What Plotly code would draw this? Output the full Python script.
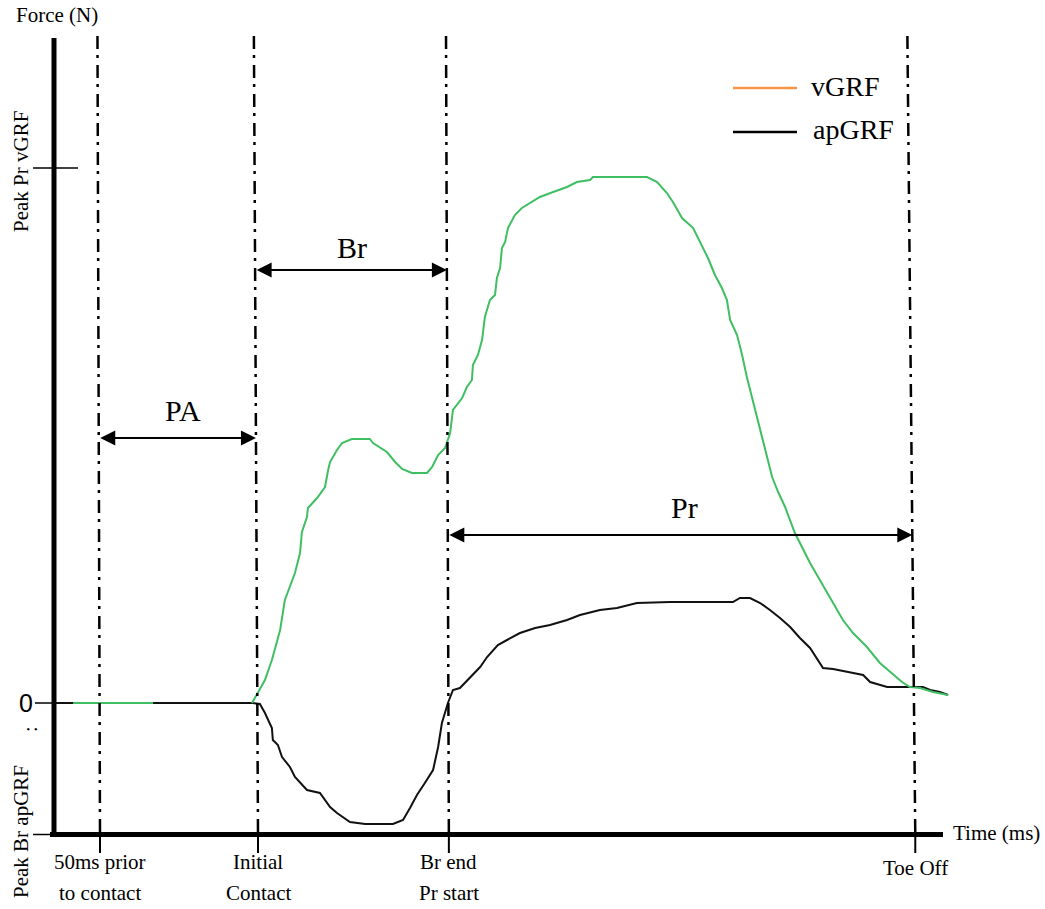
import plotly.graph_objects as go

# ---------------- data ----------------
# time in ms relative to initial contact, force in N
event_labels = [["50ms prior", "to contact"], ["Initial", "Contact"], ["Br end", "Pr start"], ["Toe Off"]]
event_t = [-50.0, 0.0, 60.4, 208.0]

phase_names = ["PA", "Br", "Pr"]

# vGRF: short pre-contact baseline, then stance
vgrf_t = [-58.5, -33.2, None,
          -1.9, 0.0, 2.2, 4.4, 7.0, 8.5, 10.1, 11.7, 13.3, 13.9, 15.5, 15.8, 18.7, 21.2, 22.2, 22.8,
          25.0, 26.6, 29.7, 35.4, 36.4, 40.8, 43.4, 45.6, 48.7, 53.5, 55.1, 57.0, 59.2, 60.8, 61.7,
          64.6, 66.1, 67.7, 68.0, 69.6, 70.9, 71.8, 73.4, 75.0, 75.6, 76.6, 77.2, 78.2, 79.1, 81.3,
          83.5, 86.1, 89.2, 93.4, 97.8, 100.9, 105.1, 106.0, 123.1, 126.3, 129.4, 131.3, 134.2,
          137.7, 140.5, 142.4, 144.6, 146.8, 148.4, 149.4, 151.6, 153.2, 154.7, 156.3, 157.9,
          159.5, 161.1, 162.7, 164.6, 166.8, 169.9, 171.5, 174.7, 177.8, 182.0, 185.1, 188.3,
          192.7, 196.8, 200.6, 203.8, 206.3, 209.5, 213.6, 218.4]
vgrf_f = [0, 0, None,
          0, 22, 46, 86, 146, 206, 232, 260, 300, 342, 372, 390, 410, 432, 466, 482,
          506, 520, 528, 528, 520, 502, 482, 468, 460, 460, 472, 496, 510, 540, 586,
          610, 632, 646, 676, 696, 726, 772, 806, 816, 850, 870, 910, 922, 950, 976,
          990, 1000, 1012, 1022, 1032, 1042, 1046, 1052, 1052, 1042, 1020, 1002, 970,
          950, 916, 890, 856, 830, 806, 766, 736, 696, 652, 612, 572,
          532, 490, 452, 422, 392, 340, 320, 280, 246, 200, 166, 140,
          112, 80, 60, 42, 32, 30, 22, 16]

apgrf_t = [-64.2, -1.6, 0.6, 2.2, 4.4, 4.7, 6.3, 7.6, 10.1, 11.7, 15.5, 19.6, 22.8, 25.0, 29.1,
           33.9, 42.7, 45.9, 48.1, 50.3, 52.8, 55.4, 57.0, 58.2, 60.1, 61.7, 63.9, 67.1, 70.3,
           72.5, 75.9, 78.8, 82.9, 87.7, 92.4, 97.8, 101.9, 108.2, 113.6, 119.9, 130.4, 150.3,
           152.5, 155.7, 158.9, 162.0, 165.2, 168.4, 171.5, 174.7, 178.8, 182.0, 187.3, 191.5,
           193.7, 199.1, 206.3, 210.4, 212.7, 215.8, 218.4]
apgrf_f = [0, 0, -2, -20, -50, -74, -84, -108, -128, -148, -174, -180, -208, -220, -238,
           -242, -242, -234, -210, -184, -160, -134, -88, -40, 0, 26, 30, 50, 72,
           92, 116, 126, 140, 150, 156, 166, 176, 186, 190, 200, 202, 202,
           210, 210, 200, 186, 170, 152, 130, 110, 70, 68, 62, 56,
           42, 32, 32, 32, 26, 22, 16]

peak_pr_vgrf = 1070
peak_br_apgrf = -263

# ---------------- layout helpers (page pixel -> data units) ----------------
PX_PER_MS = 3.16
X0_PX = 258
N_PER_PX = 2.0
Y0_PX = 703


def X(px):
    return (px - X0_PX) / PX_PER_MS


def Y(py):
    return (Y0_PX - py) * N_PER_PX


W, H = 1045, 909
SERIF = "Liberation Serif, Times New Roman, serif"
GREEN = "#3fbf62"
ORANGE = "#f5964b"

top_f = Y(36)
bottom_tick_f = Y(853)
lean = [-0.8, -1.3, -0.9, -2.5]  # slight tilt of the event lines (top offset, ms)


def line_x_at(i, f):
    # x of tilted event line i at force level f
    frac = (f - peak_br_apgrf) / (top_f - peak_br_apgrf)
    return event_t[i] + lean[i] * frac


fig = go.Figure()

fig.add_trace(go.Scatter(x=apgrf_t, y=apgrf_f, mode="lines",
                         line=dict(color="#111111", width=2), hoverinfo="skip", showlegend=False))
fig.add_trace(go.Scatter(x=vgrf_t, y=vgrf_f, mode="lines", connectgaps=False,
                         line=dict(color=GREEN, width=2), hoverinfo="skip", showlegend=False))

shapes = []
# event lines
for i, t in enumerate(event_t):
    shapes.append(dict(type="line", xref="x", yref="y", x0=t + lean[i], x1=t, y0=top_f, y1=peak_br_apgrf,
                       line=dict(color="black", width=2.5, dash="13px,6px,3px,7px")))
    shapes.append(dict(type="line", xref="x", yref="y", x0=t, x1=t, y0=peak_br_apgrf, y1=bottom_tick_f,
                       line=dict(color="black", width=2)))
# axes
shapes.append(dict(type="line", xref="x", yref="y", x0=X(54), x1=X(54), y0=Y(38), y1=Y(837),
                   line=dict(color="black", width=5)))
shapes.append(dict(type="line", xref="x", yref="y", x0=X(50), x1=X(943), y0=peak_br_apgrf, y1=peak_br_apgrf,
                   line=dict(color="black", width=5)))
# y ticks
shapes.append(dict(type="line", xref="x", yref="y", x0=X(33), x1=X(78), y0=peak_pr_vgrf, y1=peak_pr_vgrf,
                   line=dict(color="black", width=1.5)))
shapes.append(dict(type="line", xref="x", yref="y", x0=X(35), x1=X(54), y0=0, y1=0,
                   line=dict(color="black", width=1.5)))
shapes.append(dict(type="line", xref="x", yref="y", x0=X(33), x1=X(54), y0=peak_br_apgrf, y1=peak_br_apgrf,
                   line=dict(color="black", width=1.5)))
# legend swatches
shapes.append(dict(type="line", xref="x", yref="y", x0=X(733), x1=X(797), y0=Y(88), y1=Y(88),
                   line=dict(color=ORANGE, width=2.5)))
shapes.append(dict(type="line", xref="x", yref="y", x0=X(733), x1=X(797), y0=Y(132), y1=Y(132),
                   line=dict(color="black", width=2.5)))

ann = []


def text(x, y, s, size=21, xanchor="center", angle=0, family=SERIF):
    ann.append(dict(x=x, y=y, xref="x", yref="y", text=s, showarrow=False, xanchor=xanchor,
                    yanchor="middle", textangle=angle, font=dict(family=family, size=size, color="black")))


# phase arrows: (start event, end event, arrow level, label pos)
arrow_levels = [Y(438), Y(270), Y(535)]
arrow_pairs = [(0, 1), (1, 2), (2, 3)]
label_pos = [(X(183), Y(410)), (X(352), Y(247)), (X(684), Y(507))]
for k, (a, b) in enumerate(arrow_pairs):
    f = arrow_levels[k]
    ann.append(dict(x=line_x_at(b, f), y=f, ax=line_x_at(a, f), ay=f, xref="x", yref="y", axref="x", ayref="y",
                    text="", showarrow=True, arrowhead=2, startarrowhead=2, arrowside="end+start",
                    arrowsize=1.5, startarrowsize=1.5, arrowwidth=2, arrowcolor="black", standoff=0,
                    startstandoff=0))
    text(label_pos[k][0], label_pos[k][1], phase_names[k], size=30)

# event labels
for i, lab in enumerate(event_labels):
    if len(lab) == 2:
        text(event_t[i], Y(862), lab[0])
        text(event_t[i], Y(893), lab[1])
    else:
        text(event_t[i], Y(868), lab[0])

# axis titles and y labels
text(X(14), Y(15), "Force (N)", xanchor="left")
text(X(951), Y(833), "Time (ms)", xanchor="left")
text(X(21), Y(172), "Peak Pr vGRF", angle=-90)
text(X(21), Y(832), "Peak Br apGRF", angle=-90)
text(X(26), 0, "0", size=25, family="Liberation Sans, Arial, sans-serif")
text(X(30), Y(729), ":", size=20, angle=-90)

# legend text
text(X(809), Y(86), "vGRF", size=28, xanchor="left")
text(X(811), Y(129), "apGRF", size=28, xanchor="left")

fig.update_layout(
    width=W, height=H, autosize=False,
    margin=dict(l=0, r=0, t=0, b=0, pad=0),
    paper_bgcolor="white", plot_bgcolor="white",
    xaxis=dict(range=[X(0), X(W)], visible=False, fixedrange=True),
    yaxis=dict(range=[Y(H), Y(0)], visible=False, fixedrange=True),
    shapes=shapes, annotations=ann, showlegend=False,
)

fig.write_html("out.html", config={"displayModeBar": False})
